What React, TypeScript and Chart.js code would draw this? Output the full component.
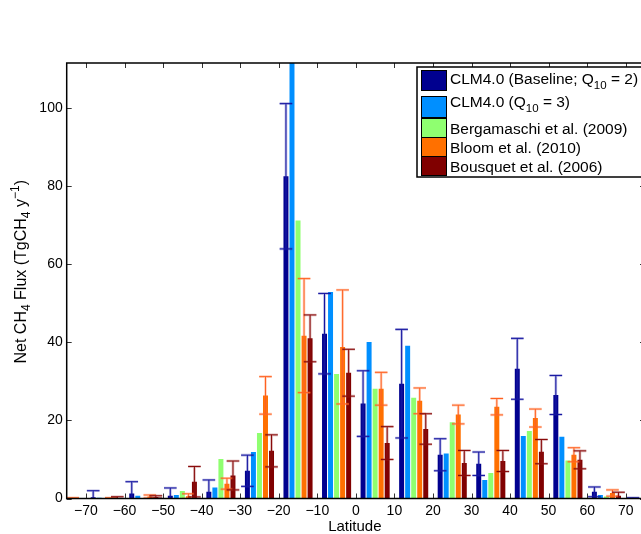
import React, { useEffect, useRef } from "react";
import { Chart, registerables } from "chart.js";

Chart.register(...registerables);

// ---------------- data ----------------
const latitudes = [-75, -65, -55, -45, -35, -25, -15, -5, 5, 15, 25, 35, 45, 55, 65, 75];
const xTickLabels = [-70, -60, -50, -40, -30, -20, -10, 0, 10, 20, 30, 40, 50, 60, 70];
const yTickLabels = [0, 20, 40, 60, 80, 100];

const clmBaseline = [0, 0.3, 1.3, 0.7, 1.75, 7.1, 82.5, 42.2, 24.3, 29.4, 11.2, 8.9, 33.2, 26.5, 1.7, 0.1];
const clmBaselineErr = [0, 1.7, 3.0, 2.0, 3.0, 4.0, 18.6, 10.3, 8.4, 13.9, 4.1, 3.0, 7.8, 5.0, 1.25, 0.1];
const clmQ10x3 = [0, 0.2, 0.7, 0.9, 2.8, 11.9, 118, 52.9, 40.1, 39.1, 11.5, 4.75, 16.0, 15.8, 0.9, 0];
const bergamaschi = [0, 0, 0, 1.9, 10.1, 16.8, 71.2, 31.9, 28.1, 25.8, 19.5, 6.5, 17.3, 9.7, 0.5, 0];
const bloom = [0.1, 0.1, 0.5, 0.6, 3.8, 26.4, 41.7, 38.8, 28.1, 25.0, 21.5, 23.5, 20.6, 11.2, 1.4, 0];
const bloomErr = [0.1, 0.1, 0.4, 0.6, 1.4, 4.8, 14.6, 14.6, 4.2, 3.3, 2.4, 2.1, 2.3, 1.8, 0.8, 0];
const bousquet = [0, 0.15, 0.4, 4.3, 5.9, 12.2, 41.0, 32.2, 14.2, 17.8, 9.1, 9.6, 12.0, 9.9, 0.7, 0];
const bousquetErr = [0, 0.3, 0.3, 3.9, 3.7, 4.1, 6.0, 6.0, 4.2, 3.9, 3.2, 2.7, 3.1, 2.3, 0.9, 0];

const NAVY = "#00008F";
const BLUE = "#008FFF";
const GREEN = "#8FFF70";
const ORANGE = "#FF7000";
const MAROON = "#800000";

const FONT = '"Liberation Sans", Arial, Helvetica, sans-serif';

// ---------------- layout ----------------
const CW = 700;
const CH = 534;
const PLOT_LEFT = 66.7;
const PLOT_RIGHT = 645;
const PLOT_TOP = 63;
const PLOT_BOTTOM = 498.5;

type Seg = { t: string; sub?: boolean; sup?: boolean };

function segWidth(ctx: CanvasRenderingContext2D, segs: Seg[], size: number, small: number) {
  let w = 0;
  for (const s of segs) {
    ctx.font = `${s.sub || s.sup ? small : size}px ${FONT}`;
    w += ctx.measureText(s.t).width;
  }
  return w;
}

function drawSegs(
  ctx: CanvasRenderingContext2D,
  segs: Seg[],
  x: number,
  y: number,
  size: number,
  small: number,
  subShift: number,
  supShift: number
) {
  let cx = x;
  ctx.textBaseline = "alphabetic";
  ctx.textAlign = "left";
  for (const s of segs) {
    ctx.font = `${s.sub || s.sup ? small : size}px ${FONT}`;
    const dy = s.sub ? subShift : s.sup ? -supShift : 0;
    ctx.fillText(s.t, cx, y + dy);
    cx += ctx.measureText(s.t).width;
  }
}

const errorBarPlugin = {
  id: "errorBars",
  afterDatasetsDraw(chart: any) {
    const { ctx, chartArea, scales } = chart;
    const yScale = scales.y;
    ctx.save();
    ctx.beginPath();
    ctx.rect(chartArea.left, chartArea.top, chartArea.right - chartArea.left, chartArea.bottom - chartArea.top);
    ctx.clip();
    chart.data.datasets.forEach((ds: any, di: number) => {
      const errs: number[] | undefined = ds.errors;
      if (!errs) return;
      const meta = chart.getDatasetMeta(di);
      meta.data.forEach((bar: any, i: number) => {
        const v = ds.data[i].y;
        const e = errs[i];
        if (!e) return;
        const x = bar.x;
        const yt = yScale.getPixelForValue(v + e);
        const yb = yScale.getPixelForValue(v - e);
        const half = 6.3;
        const draw = (color: string, lw: number) => {
          ctx.strokeStyle = color;
          ctx.lineWidth = lw;
          ctx.beginPath();
          ctx.moveTo(x, yt);
          ctx.lineTo(x, yb);
          ctx.moveTo(x - half, yt);
          ctx.lineTo(x + half, yt);
          ctx.moveTo(x - half, yb);
          ctx.lineTo(x + half, yb);
          ctx.stroke();
        };
        draw(ds.errorHalo, 2.6);
        draw(ds.errorCore, 1);
      });
    });
    ctx.restore();
  },
};

const framePlugin = {
  id: "frame",
  afterDraw(chart: any) {
    const { ctx, chartArea, scales } = chart;
    const { left, right, top, bottom } = chartArea;
    const xs = scales.x;
    const ys = scales.y;
    ctx.save();
    // ticks
    ctx.strokeStyle = "#333";
    ctx.lineWidth = 1;
    const tl = 5;
    ctx.beginPath();
    for (const v of xTickLabels) {
      const px = Math.round(xs.getPixelForValue(v)) + 0.5;
      ctx.moveTo(px, bottom);
      ctx.lineTo(px, bottom - tl);
      ctx.moveTo(px, top);
      ctx.lineTo(px, top + tl);
    }
    for (const v of yTickLabels) {
      const py = Math.round(ys.getPixelForValue(v)) + 0.5;
      ctx.moveTo(left, py);
      ctx.lineTo(left + tl, py);
      ctx.moveTo(right, py);
      ctx.lineTo(right - tl, py);
    }
    ctx.stroke();
    // box
    ctx.strokeStyle = "#000";
    ctx.lineWidth = 1.5;
    ctx.strokeRect(left, top, right - left, bottom - top);

    // x title
    ctx.fillStyle = "#000";
    ctx.font = `15px ${FONT}`;
    ctx.textAlign = "center";
    ctx.textBaseline = "alphabetic";
    ctx.fillText("Latitude", (left + right) / 2 - 1, 531);

    // y title (rotated)
    const ySegs: Seg[] = [
      { t: "Net CH" },
      { t: "4", sub: true },
      { t: " Flux (TgCH" },
      { t: "4", sub: true },
      { t: " y" },
      { t: "\u22121", sup: true },
      { t: ")" },
    ];
    const w = segWidth(ctx, ySegs, 16, 12);
    ctx.save();
    ctx.translate(26, (top + bottom) / 2 - 9);
    ctx.rotate(-Math.PI / 2);
    drawSegs(ctx, ySegs, -w / 2, 0, 16, 12, 4, 7);
    ctx.restore();

    // legend
    const lx = 417;
    const ly = 67;
    ctx.fillStyle = "#fff";
    ctx.fillRect(lx, ly, CW - lx + 10, 110);
    ctx.strokeStyle = "#000";
    ctx.lineWidth = 1.5;
    ctx.strokeRect(lx, ly, CW - lx + 10, 110);
    const entries: { color: string; segs: Seg[]; sy: number; sh: number; base: number }[] = [
      { color: NAVY, segs: [{ t: "CLM4.0 (Baseline; Q" }, { t: "10", sub: true }, { t: " = 2)" }], sy: 70.5, sh: 20, base: 84 },
      { color: BLUE, segs: [{ t: "CLM4.0 (Q" }, { t: "10", sub: true }, { t: " = 3)" }], sy: 96.5, sh: 21, base: 107 },
      { color: GREEN, segs: [{ t: "Bergamaschi et al. (2009)" }], sy: 118.5, sh: 19, base: 134 },
      { color: ORANGE, segs: [{ t: "Bloom et al. (2010)" }], sy: 137.5, sh: 19, base: 153 },
      { color: MAROON, segs: [{ t: "Bousquet et al. (2006)" }], sy: 156.5, sh: 19, base: 172 },
    ];
    for (const e of entries) {
      ctx.fillStyle = e.color;
      ctx.fillRect(421.5, e.sy, 25, e.sh);
      ctx.strokeStyle = "#000";
      ctx.lineWidth = 1;
      ctx.strokeRect(421.5, e.sy, 25, e.sh);
      ctx.fillStyle = "#000";
      drawSegs(ctx, e.segs, 450, e.base, 15.5, 11.5, 5, 6);
    }
    ctx.restore();
  },
};

function mkData(vals: number[]) {
  return vals.map((v, i) => ({ x: latitudes[i], y: v }));
}

function fmtTick(v: number) {
  return v < 0 ? "\u2212" + Math.abs(v) : String(v);
}

export default function App() {
  const ref = useRef<HTMLCanvasElement | null>(null);

  useEffect(() => {
    const canvas = ref.current;
    if (!canvas) return;
    const common = { borderWidth: 0, clip: 0 };
    const chart = new Chart(canvas, {
      type: "bar",
      data: {
        datasets: [
          { ...common, label: "CLM4.0 (Baseline; Q10 = 2)", data: mkData(clmBaseline), backgroundColor: NAVY, errors: clmBaselineErr, errorHalo: "rgba(40,40,170,0.35)", errorCore: "#1414A0" } as any,
          { ...common, label: "CLM4.0 (Q10 = 3)", data: mkData(clmQ10x3), backgroundColor: BLUE } as any,
          { ...common, label: "Bergamaschi et al. (2009)", data: mkData(bergamaschi), backgroundColor: GREEN } as any,
          { ...common, label: "Bloom et al. (2010)", data: mkData(bloom), backgroundColor: ORANGE, errors: bloomErr, errorHalo: "rgba(255,120,60,0.35)", errorCore: "#FF6020" } as any,
          { ...common, label: "Bousquet et al. (2006)", data: mkData(bousquet), backgroundColor: MAROON, errors: bousquetErr, errorHalo: "rgba(150,40,40,0.35)", errorCore: "#880808" } as any,
        ],
      },
      options: {
        responsive: false,
        animation: false,
        devicePixelRatio: 1,
        events: [],
        layout: { padding: { top: PLOT_TOP, right: CW - PLOT_RIGHT, left: 0, bottom: 0 } },
        datasets: { bar: { categoryPercentage: 0.782, barPercentage: 0.826 } },
        plugins: { legend: { display: false }, tooltip: { enabled: false }, title: { display: false } },
        scales: {
          x: {
            type: "linear",
            offset: false,
            min: -75,
            max: 75,
            grid: { display: false, drawTicks: false, offset: false },
            border: { display: false },
            ticks: {
              color: "#000",
              font: { family: FONT, size: 14 },
              padding: 4,
              maxRotation: 0,
              autoSkip: false,
              callback: (v: any) => fmtTick(Number(v)),
            },
            afterBuildTicks: (s: any) => {
              s.ticks = xTickLabels.map((v) => ({ value: v }));
            },
            afterFit: (s: any) => {
              s.height = CH - PLOT_BOTTOM;
            },
          },
          y: {
            type: "linear",
            min: 0,
            max: 111.5,
            grid: { display: false, drawTicks: false },
            border: { display: false },
            ticks: {
              color: "#000",
              font: { family: FONT, size: 14 },
              padding: 4,
              callback: (v: any) => String(v),
            },
            afterBuildTicks: (s: any) => {
              s.ticks = yTickLabels.map((v) => ({ value: v }));
            },
            afterFit: (s: any) => {
              s.width = PLOT_LEFT;
            },
          },
        },
      } as any,
      plugins: [errorBarPlugin, framePlugin],
    });
    return () => chart.destroy();
  }, []);

  return (
    <div
      style={{
        position: "fixed",
        left: 0,
        top: 0,
        width: 641,
        height: CH,
        overflow: "hidden",
        background: "#fff",
      }}
    >
      <canvas ref={ref} width={CW} height={CH} style={{ display: "block", width: CW, height: CH }} />
    </div>
  );
}
